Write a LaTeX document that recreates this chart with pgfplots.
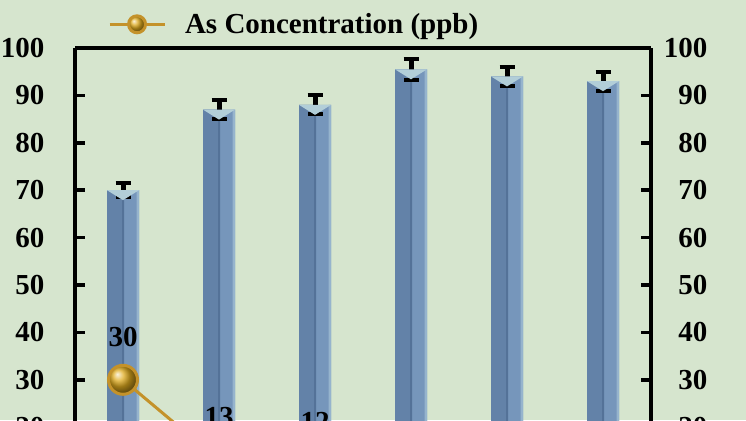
\documentclass[border=0pt]{standalone}
\usepackage{pgfplots}
\pgfplotsset{compat=1.18}
\usepackage{pgfplotstable}
\usepackage{fontspec}
\setmainfont{Liberation Serif}
\definecolor{bg}{RGB}{214,229,206}
\definecolor{barmain}{RGB}{118,150,187}
\definecolor{barleft}{RGB}{99,130,168}
\definecolor{barmidline}{RGB}{84,114,152}
\definecolor{baredge}{RGB}{150,180,205}
\definecolor{bartop}{RGB}{178,206,216}
\definecolor{linegold}{RGB}{196,146,42}
\definecolor{ballgold}{RGB}{222,170,30}

\pgfdeclareplotmark{vtop}{%
  \pgfpathmoveto{\pgfpoint{-16pt}{0pt}}%
  \pgfpathlineto{\pgfpoint{16pt}{0pt}}%
  \pgfpathlineto{\pgfpoint{0pt}{-10pt}}%
  \pgfpathclose\pgfusepathqfill}

\pgfplotstableread{
x eff err conc
1 70 1.5 30
2 87 2 13
3 88 2 12
4 95.5 2.2 5
5 94 2 4
6 93 2 3
}\data

\newcommand{\bigfont}{\fontsize{29}{32}\selectfont\bfseries}

\begin{document}
\begin{tikzpicture}[x=1pt,y=1pt]
\fill[bg] (0,0) rectangle (746,420);
\clip (0,0) rectangle (746,420);
\begin{axis}[
  at={(75pt,372pt)}, anchor=north west,
  scale only axis, width=576pt, height=474pt,
  xmin=0.5, xmax=6.5, ymin=0, ymax=100,
  xtick=\empty,
  ytick={0,10,...,100},
  axis y line*=left, axis x line*=box,
  axis line style={line width=4pt, black},
  tick align=inside, major tick length=10pt,
  ytick style={line width=3.5pt, black},
  /pgf/number format/assume math mode=true,
  yticklabel style={font=\bigfont, xshift=-27pt},
  legend style={at={(axis description cs:0.057,1.05)}, anchor=west,
    draw=none, fill=none, inner sep=0pt, font=\bigfont,
    legend cell align=left},
  legend image code/.code={
    \draw[linegold, line width=3pt] (0pt,0pt) -- (55pt,0pt);
    \shade[ball color=ballgold] (27.5pt,0pt) circle (8.5pt);
    \path (72pt,0pt);
  },
]
% bar body
\addplot[ybar, bar width=32pt, bar shift=0pt, draw=none, fill=barmain, forget plot]
  table[x=x, y=eff]{\data};
% darker left face
\addplot[ybar, bar width=15pt, bar shift=-8.5pt, draw=none, fill=barleft, forget plot]
  table[x=x, y=eff]{\data};
% middle edge
\addplot[ybar, bar width=2pt, bar shift=0pt, draw=none, fill=barmidline, forget plot]
  table[x=x, y=eff]{\data};
% light right edge
\addplot[ybar, bar width=2.5pt, bar shift=14.75pt, draw=none, fill=baredge, forget plot]
  table[x=x, y=eff]{\data};
% V-shaped top
\addplot[only marks, mark=vtop, mark options={fill=bartop, draw=none}, forget plot]
  table[x=x, y=eff]{\data};
% error bars
\addplot[black, line width=5pt, mark=none, forget plot, opacity=0,
  error bars/.cd, y dir=both, y explicit,
  error bar style={line width=5pt, draw=black, opacity=1, solid},
  error mark options={rotate=90, line width=4pt, mark size=7.5pt, draw=black, opacity=1}]
  table[x=x, y=eff, y error=err]{\data};
\addplot[linegold, line width=3pt, mark=ball, mark size=14.5pt,
  mark options={ball color=ballgold},
  nodes near coords,
  nodes near coords style={font=\bigfont, black, anchor=center, yshift=43pt, opacity=1}]
  table[x=x, y=conc]{\data};
\addlegendentry{As Concentration (ppb)}
\end{axis}
\begin{axis}[
  at={(75pt,372pt)}, anchor=north west,
  scale only axis, width=576pt, height=474pt,
  xmin=0.5, xmax=6.5, ymin=0, ymax=100,
  axis x line=none, axis y line*=right,
  axis line style={line width=4pt, black},
  ytick={0,10,...,100},
  tick align=inside, major tick length=10pt,
  ytick style={line width=3.5pt, black},
  /pgf/number format/assume math mode=true,
  yticklabel style={font=\bigfont, anchor=east, xshift=60pt},
]
\node[rotate=90, anchor=north, font=\bigfont] at (rel axis cs:1.143,0.55) {Removal Efficiency (\%)};
\end{axis}
\end{tikzpicture}
\end{document}
